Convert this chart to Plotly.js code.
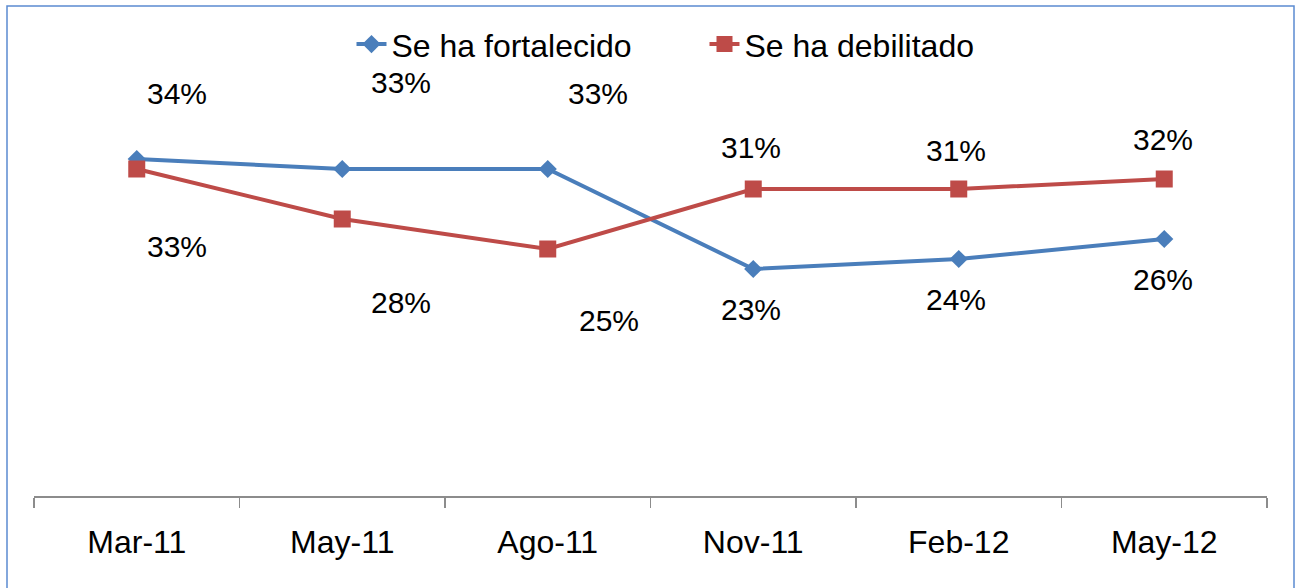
<!DOCTYPE html>
<html>
<head>
<meta charset="utf-8">
<script src="https://cdn.plot.ly/plotly-3.0.1.min.js"></script>
<style>
  html, body { margin: 0; padding: 0; background: #fff; }
  #chart { width: 1301px; height: 588px; }
</style>
</head>
<body>
<div id="chart"></div>
<script>
// ---- data ----
var categories = ["Mar-11", "May-11", "Ago-11", "Nov-11", "Feb-12", "May-12"];
var fortalecido = [34, 33, 33, 23, 24, 26];
var debilitado = [33, 28, 25, 31, 31, 32];
var seriesNames = ["Se ha fortalecido", "Se ha debilitado"];

// label offsets (px) relative to each point
var fortShift = [[40, 66], [59, 87], [50, 76], [-2, -40], [-3, -40], [-1, -40]];
var debShift = [[40, -77], [59, -83], [61, -71], [-2, 42], [-3, 39], [-1, 40]];

var FONT = "Liberation Sans, Arial, sans-serif";
var blue = "#4A7EBB", red = "#BE4B48";

var traces = [
  {
    x: categories, y: fortalecido, name: seriesNames[0], type: "scatter", mode: "lines+markers",
    line: { color: blue, width: 4 },
    marker: { symbol: "diamond", size: 14, color: blue }
  },
  {
    x: categories, y: debilitado, name: seriesNames[1], type: "scatter", mode: "lines+markers",
    line: { color: red, width: 4 },
    marker: { symbol: "square", size: 17, color: red }
  }
];

var annotations = [];
function addLabels(vals, shifts) {
  vals.forEach(function (v, i) {
    annotations.push({
      x: categories[i], y: v, xref: "x", yref: "y",
      text: v + "%", showarrow: false,
      xanchor: "center", yanchor: "middle",
      xshift: shifts[i][0], yshift: shifts[i][1],
      font: { family: FONT, size: 30, color: "#000" }
    });
  });
}
addLabels(fortalecido, fortShift);
addLabels(debilitado, debShift);

var layout = {
  width: 1301, height: 588,
  margin: { l: 34, r: 34, t: 93, b: 92, pad: 0 },
  paper_bgcolor: "#fff", plot_bgcolor: "#fff",
  font: { family: FONT, size: 30, color: "#000" },
  showlegend: true,
  legend: {
    orientation: "h", x: 0.2575, xanchor: "left", y: 1.121, yanchor: "middle",
    font: { family: FONT, size: 32, color: "#000" },
    bgcolor: "rgba(0,0,0,0)", entrywidth: 308, entrywidthmode: "pixels"
  },
  xaxis: {
    type: "category", range: [-0.5, 5.5], fixedrange: true,
    showline: true, linecolor: "#8C8C8C", linewidth: 1.5,
    ticks: "outside", tickson: "boundaries", ticklen: 10, tickcolor: "#8C8C8C", tickwidth: 1.5,
    showgrid: false, zeroline: false, ticklabelstandoff: 17,
    tickfont: { family: FONT, size: 32, color: "#000" }
  },
  yaxis: {
    range: [0.3, 40.6], visible: false, showgrid: false, zeroline: false, fixedrange: true
  },
  annotations: annotations,
  shapes: [{
    type: "rect", xref: "paper", yref: "paper",
    x0: (7 - 34) / 1233, x1: (1294 - 34) / 1233,
    y0: (496 - 620) / 403, y1: (496 - 6) / 403,
    line: { color: "#5B8BD1", width: 1.5 }, fillcolor: "rgba(0,0,0,0)", layer: "above"
  }]
};

Plotly.newPlot("chart", traces, layout, { displayModeBar: false, staticPlot: true });
</script>
</body>
</html>
